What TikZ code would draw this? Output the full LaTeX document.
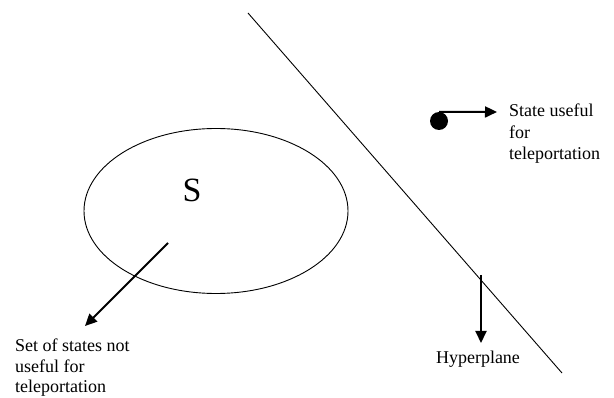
\documentclass[tikz,border=0pt]{standalone}
\usepackage{fontspec}
\setmainfont{Liberation Serif}
\usetikzlibrary{arrows.meta,shapes.geometric}

\tikzset{
  thinline/.style={line width=0.9pt},
  pointer/.style={line width=2pt,-{Triangle[length=12pt,width=11pt]}},
  labeltext/.style={font=\fontsize{18}{20}\selectfont,align=left,inner sep=0pt},
}

\begin{document}
\begin{tikzpicture}[x=1pt,y=-1pt]
    \useasboundingbox (0,0) rectangle (614,398);

    % the set S
    \node[draw,thinline,ellipse,minimum width=264pt,minimum height=165pt] (setS) at (216,211) {};
    \node[font=\fontsize{34}{34}\selectfont,anchor=base,inner sep=0pt] (setname) at (192,202) {S};

    % the hyperplane
    \coordinate (planeA) at (248,13);
    \coordinate (planeB) at (562,373);
    \draw[thinline] (planeA) -- (planeB);

    % arrow out of S
    \coordinate (setTail) at (168,243);
    \coordinate (setTip) at (85,326);
    \draw[pointer] (setTail) -- (setTip);
    \node[labeltext,anchor=base west] (setlabel) at (15,392)
        {Set of states not\\useful for\\teleportation};

    % the useful state
    \node[circle,fill,inner sep=0pt,minimum size=18pt] (state) at (439,121) {};
    \coordinate (stateTip) at (497,112);
    \draw[pointer] (state.north) -- (stateTip);
    \node[labeltext,font=\fontsize{18}{21.5}\selectfont,anchor=base west] (statelabel) at (509,160)
        {State useful\\for\\teleportation};

    % hyperplane label
    \coordinate (planeTail) at (481,275);
    \coordinate (planeTip) at (481,343);
    \draw[pointer] (planeTail) -- (planeTip);
    \node[labeltext,anchor=base] (planelabel) at (478,364) {Hyperplane};
\end{tikzpicture}
\end{document}
